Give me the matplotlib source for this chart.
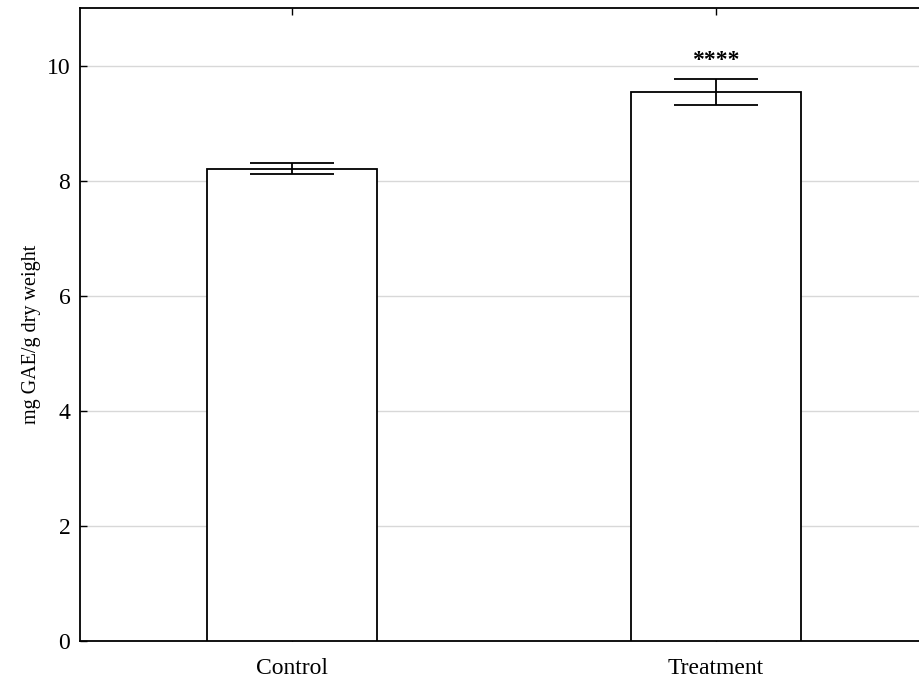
import matplotlib
matplotlib.use("Agg")
import matplotlib.pyplot as plt

groups = ["Control", "Treatment"]
means = [8.21, 9.54]
errors = [0.09, 0.22]
signif = ["", "****"]
yticks = [0, 2, 4, 6, 8, 10]

plt.rcParams["font.family"] = ["Liberation Serif", "DejaVu Serif"]

fig = plt.figure(figsize=(9.2, 6.77), dpi=100)
ax = fig.add_axes([0.087, 0.0532, 0.9217, 0.935])

x = list(range(len(groups)))
ax.bar(x, means, width=0.4, color="white", edgecolor="black", linewidth=1.3, zorder=3)
ax.errorbar(x, means, yerr=errors, fmt="none", ecolor="black", elinewidth=1.3,
            capsize=30, capthick=1.3, zorder=4)

for xi, m, e, s in zip(x, means, errors, signif):
    if s:
        ax.annotate(s, (xi, m + e), xytext=(0, 6), textcoords="offset points",
                    ha="center", va="bottom", fontsize=17, fontweight="bold")

ax.set_xlim(-0.5, 1.5)
ax.set_ylim(0, 11)
ax.set_xticks(x)
ax.set_xticklabels(groups)
ax.set_yticks(yticks)
ax.yaxis.grid(True, color="#d8d8d8", linewidth=1.0, zorder=0)
ax.set_axisbelow(True)
ax.tick_params(axis="both", direction="in", length=5, width=1.0, labelsize=17)
ax.tick_params(axis="x", top=True, pad=12)
ax.tick_params(axis="y", pad=7)
ax.spines["right"].set_visible(False)
for sp in ["left", "bottom", "top"]:
    ax.spines[sp].set_linewidth(1.3)
ax.set_ylabel("mg GAE/g dry weight", fontsize=14.5)
ax.yaxis.set_label_coords(-0.046, 0.485)

fig.savefig("out.png", dpi=100)
